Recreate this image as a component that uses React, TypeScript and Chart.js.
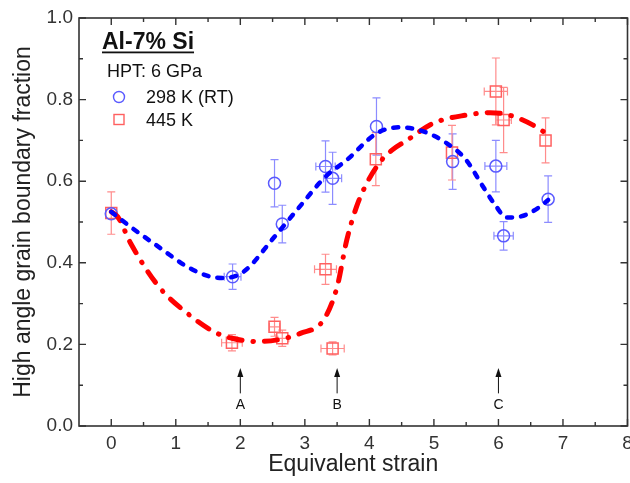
import React, { useEffect, useRef } from 'react';
import { Chart, registerables } from 'chart.js';

Chart.register(...registerables);

// ---- data ----
const xTickValues = [0, 1, 2, 3, 4, 5, 6, 7, 8];
const xMinorValues = [0.5, 1.5, 2.5, 3.5, 4.5, 5.5, 6.5, 7.5];
const yTickValues = [0, 0.2, 0.4, 0.6, 0.8, 1.0];
const yMinorValues = [0.1, 0.3, 0.5, 0.7, 0.9];

// 298 K (RT)
const blueX = [0, 1.88, 2.53, 2.65, 3.32, 3.43, 4.11, 5.29, 5.96, 6.08, 6.77];
const blueY = [0.52, 0.366, 0.595, 0.495, 0.636, 0.607, 0.734, 0.648, 0.637, 0.466, 0.556];
const blueYErr = [0, 0.031, 0.058, 0.046, 0.063, 0.064, 0.07, 0.068, 0.063, 0.035, 0.057];
const blueXErr = [0, 0.13, 0, 0, 0.15, 0.14, 0, 0, 0.17, 0.15, 0];

// 445 K
const redX = [0, 1.87, 2.53, 2.65, 3.32, 3.43, 4.1, 5.28, 5.96, 6.08, 6.73];
const redY = [0.522, 0.204, 0.243, 0.215, 0.384, 0.19, 0.654, 0.67, 0.82, 0.75, 0.70];
const redYErr = [0.052, 0.02, 0.023, 0.02, 0.037, 0.016, 0.065, 0.067, 0.082, 0.08, 0.055];
const redXErr = [0, 0.16, 0.08, 0.1, 0.17, 0.18, 0, 0, 0.18, 0.12, 0];

// guide curves
const blueCurveX = [0, 0.3, 0.77, 1.18, 1.54, 1.74, 2.05, 2.51, 2.88, 3.32, 3.65, 4.11, 4.45, 4.78, 5.2, 5.5, 5.76, 5.97, 6.12, 6.33, 6.64, 6.77];
const blueCurveY = [0.525, 0.488, 0.435, 0.39, 0.366, 0.363, 0.378, 0.46, 0.53, 0.611, 0.652, 0.717, 0.732, 0.725, 0.693, 0.652, 0.587, 0.537, 0.511, 0.513, 0.537, 0.554];
const redCurveX = [0, 0.1, 0.3, 0.74, 1.18, 1.59, 1.87, 2.26, 2.62, 2.93, 3.29, 3.5, 3.65, 3.8, 3.96, 4.17, 4.35, 4.58, 4.99, 5.5, 5.87, 6.17, 6.53, 6.82];
const redCurveY = [0.525, 0.513, 0.448, 0.341, 0.276, 0.231, 0.215, 0.207, 0.2125, 0.227, 0.26, 0.341, 0.456, 0.537, 0.595, 0.648, 0.676, 0.70, 0.742, 0.762, 0.768, 0.762, 0.738, 0.709];

// annotations
const arrowX = [2, 3.5, 6];
const arrowLabels = ['A', 'B', 'C'];
const arrowTipY = 0.142;
const arrowBaseY = 0.08;
const arrowLabelY = 0.05;

const legendTitle = 'Al-7% Si';
const legendSubtitle = 'HPT: 6 GPa';
const seriesNames = ['298 K (RT)', '445 K'];
const xTitle = 'Equivalent strain';
const yTitle = 'High angle grain boundary fraction';

const FONT = '"Liberation Sans", Arial, Helvetica, sans-serif';
const BLUE = '#0000ff';
const RED = '#ff0000';
const BLUE_MK = '#5a5aff';
const RED_MK = '#ff6060';
const BLUE_ERR = '#8c8cff';
const RED_ERR = '#ff8c8c';
const AXIS = '#333333';

const toPts = (xs: number[], ys: number[]) => xs.map((x, i) => ({ x, y: ys[i] }));

const errorBarPlugin = {
  id: 'errorBars',
  beforeDatasetsDraw(chart: any) {
    const { ctx, scales } = chart;
    const xs = scales.x;
    const ys = scales.y;
    const draw = (X: number[], Y: number[], ye: number[], xe: number[], color: string) => {
      ctx.save();
      ctx.strokeStyle = color;
      ctx.lineWidth = 1.2;
      X.forEach((xv, i) => {
        const px = xs.getPixelForValue(xv);
        const py = ys.getPixelForValue(Y[i]);
        ctx.beginPath();
        if (ye[i] > 0) {
          const t = ys.getPixelForValue(Y[i] + ye[i]);
          const b = ys.getPixelForValue(Y[i] - ye[i]);
          ctx.moveTo(px, t); ctx.lineTo(px, b);
          ctx.moveTo(px - 4, t); ctx.lineTo(px + 4, t);
          ctx.moveTo(px - 4, b); ctx.lineTo(px + 4, b);
        }
        if (xe[i] > 0) {
          const l = xs.getPixelForValue(xv - xe[i]);
          const r = xs.getPixelForValue(xv + xe[i]);
          ctx.moveTo(l, py); ctx.lineTo(r, py);
          ctx.moveTo(l, py - 4); ctx.lineTo(l, py + 4);
          ctx.moveTo(r, py - 4); ctx.lineTo(r, py + 4);
        }
        ctx.stroke();
      });
      ctx.restore();
    };
    draw(blueX, blueY, blueYErr, blueXErr, BLUE_ERR);
    draw(redX, redY, redYErr, redXErr, RED_ERR);
  },
};

const framePlugin = {
  id: 'frame',
  afterDatasetsDraw(chart: any) {
    const { ctx, scales } = chart;
    const xs = scales.x;
    const ys = scales.y;
    const L = xs.getPixelForValue(xs.min);
    const R = xs.getPixelForValue(xs.max);
    const T = ys.getPixelForValue(ys.max);
    const B = ys.getPixelForValue(ys.min);
    ctx.save();
    ctx.strokeStyle = AXIS;
    ctx.lineWidth = 1.6;
    ctx.strokeRect(L, T, R - L, B - T);
    ctx.lineWidth = 1.4;
    ctx.beginPath();
    const xt = (v: number, len: number) => {
      const p = xs.getPixelForValue(v);
      ctx.moveTo(p, B); ctx.lineTo(p, B - len);
      ctx.moveTo(p, T); ctx.lineTo(p, T + len);
    };
    const yt = (v: number, len: number) => {
      const p = ys.getPixelForValue(v);
      ctx.moveTo(L, p); ctx.lineTo(L + len, p);
      ctx.moveTo(R, p); ctx.lineTo(R - len, p);
    };
    xTickValues.forEach((v) => xt(v, 7));
    xMinorValues.forEach((v) => xt(v, 4));
    yTickValues.forEach((v) => yt(v, 7));
    yMinorValues.forEach((v) => yt(v, 4));
    ctx.stroke();

    // x tick labels
    ctx.fillStyle = AXIS;
    ctx.font = `19px ${FONT}`;
    ctx.textAlign = 'center';
    ctx.textBaseline = 'alphabetic';
    xTickValues.forEach((v) => {
      ctx.fillText(String(v), xs.getPixelForValue(v), B + 23);
    });

    // arrows
    ctx.fillStyle = '#111';
    ctx.strokeStyle = '#111';
    ctx.lineWidth = 1;
    ctx.font = `14px ${FONT}`;
    ctx.textAlign = 'center';
    ctx.textBaseline = 'middle';
    arrowX.forEach((v, i) => {
      const p = xs.getPixelForValue(v);
      const tip = ys.getPixelForValue(arrowTipY);
      const base = ys.getPixelForValue(arrowBaseY);
      ctx.beginPath();
      ctx.moveTo(p, base); ctx.lineTo(p, tip + 6);
      ctx.stroke();
      ctx.beginPath();
      ctx.moveTo(p, tip); ctx.lineTo(p - 3, tip + 9); ctx.lineTo(p + 3, tip + 9);
      ctx.closePath();
      ctx.fill();
      ctx.fillText(arrowLabels[i], p, ys.getPixelForValue(arrowLabelY));
    });

    // legend / annotation block
    ctx.fillStyle = '#111';
    ctx.textAlign = 'left';
    ctx.textBaseline = 'alphabetic';
    ctx.font = `bold 23px ${FONT}`;
    ctx.fillText(legendTitle, 102, 49);
    const w = ctx.measureText(legendTitle).width;
    ctx.fillRect(102, 51.5, w, 1.8);
    ctx.font = `18px ${FONT}`;
    ctx.fillText(legendSubtitle, 107, 77);
    ctx.fillText(seriesNames[0], 146, 103);
    ctx.fillText(seriesNames[1], 146, 126);
    ctx.lineWidth = 1.4;
    ctx.strokeStyle = BLUE_MK;
    ctx.beginPath();
    ctx.arc(119, 97, 5.5, 0, Math.PI * 2);
    ctx.stroke();
    ctx.strokeStyle = RED_MK;
    ctx.strokeRect(114, 114.5, 10, 10);
    ctx.restore();
  },
};

export default function App() {
  const ref = useRef<HTMLCanvasElement | null>(null);
  useEffect(() => {
    document.body.style.margin = '0';
    const canvas = ref.current;
    if (!canvas) return;
    const chart = new Chart(canvas, {
      type: 'scatter',
      data: {
        datasets: [
          {
            type: 'line',
            data: toPts(blueCurveX, blueCurveY),
            borderColor: BLUE,
            borderWidth: 4.5,
            borderDash: [5, 9],
            borderCapStyle: 'round',
            pointRadius: 0,
            fill: false,
            showLine: true,
            cubicInterpolationMode: 'monotone',
            order: 0,
          } as any,
          {
            type: 'line',
            data: toPts(redCurveX, redCurveY),
            borderColor: RED,
            borderWidth: 5,
            borderDash: [13, 11, 0.5, 11],
            borderCapStyle: 'round',
            pointRadius: 0,
            fill: false,
            showLine: true,
            cubicInterpolationMode: 'monotone',
            order: 0,
          } as any,
          {
            data: toPts(blueX, blueY),
            pointStyle: 'circle',
            pointRadius: 6,
            pointBorderWidth: 1.5,
            borderColor: BLUE_MK,
            backgroundColor: 'rgba(0,0,0,0)',
            order: 1,
          },
          {
            data: toPts(redX, redY),
            pointStyle: 'rect',
            pointRadius: 7.8,
            pointBorderWidth: 1.5,
            borderColor: RED_MK,
            backgroundColor: 'rgba(0,0,0,0)',
            order: 1,
          },
        ],
      },
      options: {
        responsive: false,
        animation: false,
        devicePixelRatio: 1,
        layout: { autoPadding: false, padding: { top: 18, right: 2.5, left: 0, bottom: 0 } },
        plugins: { legend: { display: false }, tooltip: { enabled: false } },
        scales: {
          x: {
            type: 'linear',
            min: -0.5,
            max: 8,
            afterBuildTicks: (s: any) => { s.ticks = xTickValues.map((v) => ({ value: v })); },
            afterFit: (s: any) => { s.height = 57; s.paddingLeft = 0; s.paddingRight = 0; },
            grid: { display: false, drawTicks: false },
            border: { display: false },
            ticks: { display: false },
            title: { display: true, text: xTitle, color: '#222', font: { family: FONT, size: 23 }, padding: { top: 0, bottom: 5 } },
          },
          y: {
            type: 'linear',
            min: 0,
            max: 1,
            afterBuildTicks: (s: any) => { s.ticks = yTickValues.map((v) => ({ value: v })); },
            afterFit: (s: any) => { s.width = 79; s.paddingTop = 0; s.paddingBottom = 0; },
            grid: { display: false, drawTicks: false },
            border: { display: false },
            ticks: { color: AXIS, font: { family: FONT, size: 19 }, padding: 6, callback: (v: any) => Number(v).toFixed(1) },
            title: { display: true, text: yTitle, color: '#222', font: { family: FONT, size: 23 }, padding: { top: 10, bottom: 0 } },
          },
        },
      },
      plugins: [errorBarPlugin, framePlugin],
    } as any);
    return () => chart.destroy();
  }, []);
  return (
    <div style={{ width: 630, height: 483, background: '#fff' }}>
      <canvas ref={ref} width={630} height={483} style={{ display: 'block' }} />
    </div>
  );
}
